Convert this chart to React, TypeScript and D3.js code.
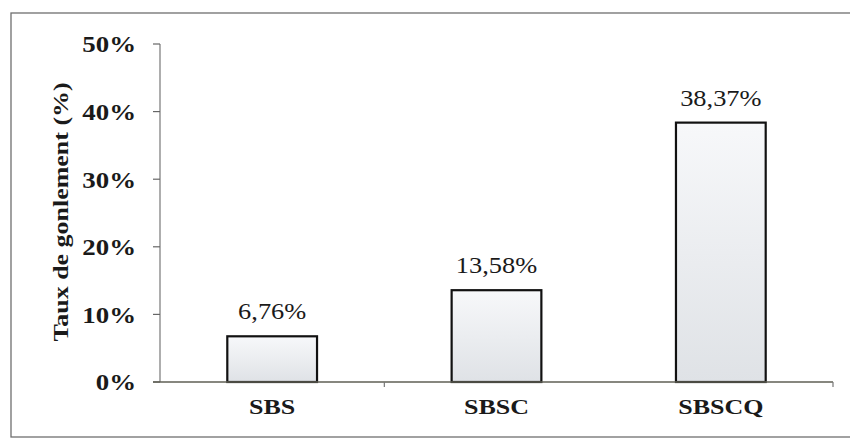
import React from "react";
import * as d3 from "d3";

// Swelling rate per sample
const categories: string[] = ["SBS", "SBSC", "SBSCQ"];
const swellingRates: number[] = [0.0676, 0.1358, 0.3837];
const valueLabels: string[] = ["6,76%", "13,58%", "38,37%"];
const yTicks: number[] = [0, 0.1, 0.2, 0.3, 0.4, 0.5];
const yTitle = "Taux de gonlement (%)";

const W = 850;
const H = 439;
const plot = { left: 160, right: 833, top: 44, bottom: 382 };
const serif = "'Liberation Serif', 'Times New Roman', serif";

export default function App() {
  const x = d3
    .scaleBand<string>()
    .domain(categories)
    .range([plot.left, plot.right])
    .paddingInner(0.6)
    .paddingOuter(0.3);
  const y = d3.scaleLinear().domain([0, 0.5]).range([plot.bottom, plot.top]);
  const fmt = (v: number) => `${Math.round(v * 100)}%`;
  const step = x.step();
  const catTicks = [plot.left + step, plot.right];

  return (
    <svg
      width={W}
      height={H}
      style={{ position: "absolute", left: 0, top: 0, background: "#fff" }}
    >
      <defs>
        <linearGradient id="barFill" x1="0" y1="0" x2="0" y2="1">
          <stop offset="0%" stopColor="#f7f8fa" />
          <stop offset="100%" stopColor="#dfe2e6" />
        </linearGradient>
      </defs>

      {/* chart frame */}
      <rect x={11} y={13} width={W + 10} height={424} fill="none" stroke="#6f6f6f" strokeWidth={1.3} />

      {/* y axis */}
      <line x1={plot.left} x2={plot.left} y1={y(0.5)} y2={y(0)} stroke="#777" strokeWidth={1.2} />
      {yTicks.map((t) => (
        <g key={t}>
          <line x1={plot.left - 7} x2={plot.left} y1={y(t)} y2={y(t)} stroke="#666" strokeWidth={1.2} />
          <text
            transform={`translate(136,${y(t)}) scale(1.12,1)`}
            dy="0.35em"
            textAnchor="end"
            fontFamily={serif}
            fontWeight="bold"
            fontSize={24}
            fill="#1a1a1a"
          >
            {fmt(t)}
          </text>
        </g>
      ))}
      <text
        transform={`translate(60,212) rotate(-90) scale(1.18,1)`}
        textAnchor="middle"
        dy="0.35em"
        fontFamily={serif}
        fontWeight="bold"
        fontSize={22}
        fill="#1a1a1a"
      >
        {yTitle}
      </text>

      {/* bars */}
      {categories.map((c, i) => (
        <g key={c}>
          <rect
            x={x(c)!}
            y={y(swellingRates[i])}
            width={x.bandwidth()}
            height={y(0) - y(swellingRates[i])}
            fill="url(#barFill)"
            stroke="#111"
            strokeWidth={2.2}
          />
          <text
            transform={`translate(${x(c)! + x.bandwidth() / 2},${y(swellingRates[i]) - 17}) scale(1.1,1)`}
            textAnchor="middle"
            fontFamily={serif}
            fontSize={24}
            fill="#1a1a1a"
          >
            {valueLabels[i]}
          </text>
          <text
            transform={`translate(${x(c)! + x.bandwidth() / 2},${plot.bottom + 32}) scale(1.3,1)`}
            textAnchor="middle"
            fontFamily={serif}
            fontWeight="bold"
            fontSize={20}
            fill="#1a1a1a"
          >
            {c}
          </text>
        </g>
      ))}

      {/* x axis */}
      <line x1={plot.left - 7} x2={plot.right} y1={y(0)} y2={y(0)} stroke="#5f5f55" strokeWidth={1.4} />
      {catTicks.map((tx) => (
        <line key={tx} x1={tx} x2={tx} y1={y(0)} y2={y(0) + 5} stroke="#777" strokeWidth={1.2} />
      ))}
    </svg>
  );
}
